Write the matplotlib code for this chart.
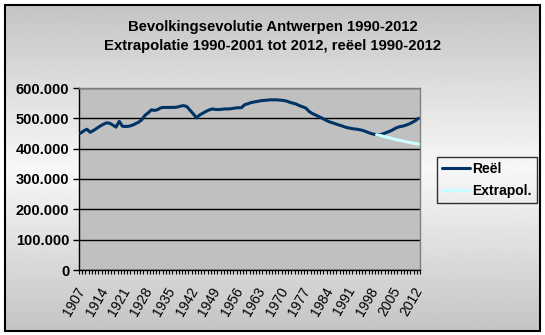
import numpy as np
import matplotlib
matplotlib.use("Agg")
import matplotlib.pyplot as plt
from matplotlib.ticker import FuncFormatter, FixedLocator
from matplotlib.patches import Rectangle

plt.rcParams['font.family'] = ['Liberation Sans', 'DejaVu Sans']

years = list(range(1907, 2013))
reeel = [
    451, 459, 464, 454, 460, 467, 474, 480, 485, 484,   # 1907-1916
    478, 471, 490, 474, 473, 474, 477, 482, 487, 495,   # 1917-1926
    510, 518, 528, 526, 529, 535, 536, 536, 536, 536,   # 1927-1936
    537, 540, 542, 539, 527, 515, 502, 511, 517, 523,   # 1937-1946
    528, 531, 529, 529, 530, 531, 531, 532, 534, 535,   # 1947-1956
    535, 545, 548, 552, 554, 556, 558, 559, 560, 561,   # 1957-1966
    561, 561, 560, 559, 557, 553, 550, 547, 542, 538,   # 1967-1976
    534, 523, 516, 511, 506, 501, 495, 490, 486, 483,   # 1977-1986
    479, 476, 472, 469, 467, 465, 464, 462, 459, 455,   # 1987-1996
    451, 448, 446, 446, 449, 453, 457, 462, 468, 472,   # 1997-2006
    474, 477, 481, 486, 492, 500,                       # 2007-2012
]
reeel = [v * 1000 for v in reeel]

extra_years = list(range(1999, 2013))
extrapol = [446, 444, 441, 438, 436, 433, 430, 428, 426, 423, 421, 419, 417, 415]
extrapol = [v * 1000 for v in extrapol]

title_lines = ["Bevolkingsevolutie Antwerpen 1990-2012",
               "Extrapolatie 1990-2001 tot 2012, reëel 1990-2012"]
label_years = list(range(1907, 2013, 7))

W, H = 545, 335
fig = plt.figure(figsize=(W / 100, H / 100), dpi=100)
fig.patch.set_facecolor('white')

# background gradient inside the border
bx0, by0, bx1, by1 = 5, 5, 540, 331
bg = fig.add_axes([bx0 / W, 1 - by1 / H, (bx1 - bx0) / W, (by1 - by0) / H], zorder=-10)
t = np.linspace(0, 1, 300)
g = 0.77 + (0.97 - 0.77) * (1 - np.abs(2 * t - 1))
bg.imshow(np.repeat(g[:, None], 2, axis=1), cmap='gray', vmin=0, vmax=1,
          aspect='auto', extent=[0, 1, 0, 1], interpolation='bilinear')
bg.set_xlim(0, 1)
bg.set_ylim(0, 1)
bg.set_axis_off()
bg.add_patch(Rectangle((0, 0), 1, 1, fill=False, edgecolor='black', lw=1.5,
                       transform=bg.transAxes, clip_on=False))

L, R, T, B = 79, 420, 88, 270
ax = fig.add_axes([L / W, 1 - B / H, (R - L) / W, (B - T) / H])
ax.set_facecolor('#c0c0c0')

xr = [years.index(y) for y in years]
xe = [years.index(y) for y in extra_years]
ax.plot(xr, reeel, color='#003366', lw=2.2, solid_capstyle='round', zorder=3, label='Reël')
ax.plot(xe, extrapol, color='#ccffff', lw=2.2, solid_capstyle='round', zorder=4, label='Extrapol.')

ax.set_xlim(-0.5, len(years) - 0.5)
ax.set_ylim(0, 600000)
ax.set_yticks(range(0, 600001, 100000))
ax.yaxis.set_major_formatter(FuncFormatter(lambda v, p: f"{int(v):,}".replace(',', '.')))
ax.grid(axis='y', color='black', lw=1.0)
ax.set_axisbelow(True)

ax.set_xticks([years.index(y) + 0.4 for y in label_years])
ax.set_xticklabels([str(y) for y in label_years], rotation=60, ha='right', va='center',
                   rotation_mode='anchor', fontsize=10)
ax.xaxis.set_minor_locator(FixedLocator(np.arange(-0.5, len(years), 1.0)))
ax.tick_params(axis='x', which='major', length=0, pad=13)
ax.tick_params(axis='x', which='minor', length=3, width=0.8, direction='out')
ax.tick_params(axis='y', length=4, width=1, direction='out', pad=3)
for lbl in ax.get_yticklabels():
    lbl.set_fontweight('bold')
    lbl.set_fontsize(10.5)

for s in ['top', 'right']:
    ax.spines[s].set_color('#808080')
    ax.spines[s].set_linewidth(1)
for s in ['left', 'bottom']:
    ax.spines[s].set_color('black')
    ax.spines[s].set_linewidth(1)

cx = 0.5 * (bx0 + bx1) / W
fig.text(cx, 1 - 27 / H, title_lines[0], ha='center', va='center',
         fontsize=10.7, fontweight='bold')
fig.text(cx, 1 - 46 / H, title_lines[1], ha='center', va='center',
         fontsize=10.7, fontweight='bold')

leg = ax.legend(loc='upper left', bbox_to_anchor=(437 / W, 1 - 157 / H),
                bbox_transform=fig.transFigure, frameon=True, fancybox=False,
                prop={'weight': 'bold', 'size': 10}, handlelength=2.0,
                handletextpad=0.2, borderpad=0.35, labelspacing=0.6, borderaxespad=0)
leg.get_frame().set_edgecolor('black')
leg.get_frame().set_linewidth(1)
leg.get_frame().set_facecolor('none')

fig.savefig('out.png', dpi=100)
